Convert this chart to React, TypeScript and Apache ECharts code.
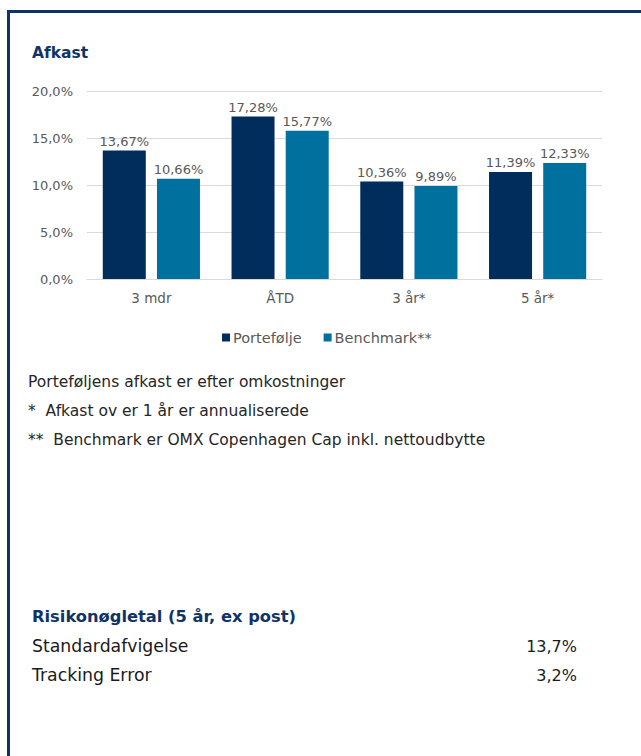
import React, { useEffect, useRef } from "react";
import * as echarts from "echarts";

const categories = ["3 mdr", "ÅTD", "3 år*", "5 år*"];
const seriesNames = ["Portefølje", "Benchmark**"];
const portfolioValues = [13.67, 17.28, 10.36, 11.39];
const benchmarkValues = [10.66, 15.77, 9.89, 12.33];
const yTicks = { min: 0, max: 20, interval: 5 };
const chartTitle = "Afkast";
const footnotes = [
  "Porteføljens afkast er efter omkostninger",
  "*  Afkast ov er 1 år er annualiserede",
  "**  Benchmark er OMX Copenhagen Cap inkl. nettoudbytte",
];
const riskTitle = "Risikonøgletal (5 år, ex post)";
const riskLabels = ["Standardafvigelse", "Tracking Error"];
const riskValues = ["13,7%", "3,2%"];

const FONT = "'DejaVu Sans', sans-serif";
const NAVY = "#002d5c";
const TEAL = "#00709e";
const GRAY = "#595959";
const TITLE_NAVY = "#0f3465";

const fmt = (v: number, d: number) => v.toFixed(d).replace(".", ",") + "%";

export default function App() {
  const ref = useRef<HTMLDivElement>(null);
  useEffect(() => {
    if (!ref.current) return;
    const chart = echarts.init(ref.current, undefined, { renderer: "svg" });
    const graphics: any[] = [
      {
        type: "rect",
        shape: { x: 8.5, y: 11.5, width: 800, height: 900 },
        style: { fill: "none", stroke: "#0d3466", lineWidth: 3 },
      },
      {
        type: "text",
        x: 32,
        y: 53,
        style: {
          text: chartTitle,
          fontFamily: FONT,
          fontSize: 15.5,
          fontWeight: "bold",
          fill: TITLE_NAVY,
          align: "left",
          verticalAlign: "middle",
        },
      },
    ];
    footnotes.forEach((t, i) => {
      graphics.push({
        type: "text",
        x: 28,
        y: 382 + i * 29,
        style: {
          text: t,
          fontFamily: FONT,
          fontSize: 15.5,
          fill: "#262626",
          align: "left",
          verticalAlign: "middle",
        },
      });
    });
    graphics.push({
      type: "text",
      x: 32,
      y: 616,
      style: {
        text: riskTitle,
        fontFamily: FONT,
        fontSize: 16.3,
        fontWeight: "bold",
        fill: TITLE_NAVY,
        align: "left",
        verticalAlign: "middle",
      },
    });
    riskLabels.forEach((t, i) => {
      graphics.push({
        type: "text",
        x: 32,
        y: 646 + i * 29,
        style: {
          text: t,
          fontFamily: FONT,
          fontSize: 17.3,
          fill: "#1a1a1a",
          align: "left",
          verticalAlign: "middle",
        },
      });
      graphics.push({
        type: "text",
        x: 577,
        y: 646 + i * 29,
        style: {
          text: riskValues[i],
          fontFamily: FONT,
          fontSize: 16,
          fill: "#1a1a1a",
          align: "right",
          verticalAlign: "middle",
        },
      });
    });

    const labelCfg = {
      show: true,
      position: "top",
      distance: 3,
      color: GRAY,
      fontFamily: FONT,
      fontSize: 13,
      formatter: (p: any) => fmt(p.value, 2),
    };

    chart.setOption({
      animation: false,
      textStyle: { fontFamily: FONT },
      grid: { left: 87, top: 91, width: 515, height: 188, containLabel: false },
      legend: {
        data: seriesNames,
        left: 217,
        top: 325,
        icon: "rect",
        itemWidth: 8,
        itemHeight: 8,
        itemGap: 22,
        textStyle: { color: GRAY, fontSize: 14.5, fontFamily: FONT, padding: [0, 0, 0, -2] },
      },
      xAxis: {
        type: "category",
        data: categories,
        axisLine: { show: true, lineStyle: { color: "#d9d9d9", width: 1 } },
        axisTick: { show: false },
        axisLabel: { color: GRAY, fontSize: 13.5, fontFamily: FONT, margin: 12 },
      },
      yAxis: {
        type: "value",
        min: yTicks.min,
        max: yTicks.max,
        interval: yTicks.interval,
        axisLine: { show: false },
        axisTick: { show: false },
        splitLine: { lineStyle: { color: "#d9d9d9", width: 1 } },
        axisLabel: {
          color: GRAY,
          fontSize: 13,
          fontFamily: FONT,
          margin: 14,
          formatter: (v: number) => fmt(v, 1),
        },
      },
      series: [
        {
          name: seriesNames[0],
          type: "bar",
          data: portfolioValues,
          barWidth: 43,
          barGap: "26%",
          itemStyle: { color: NAVY },
          label: labelCfg,
        },
        {
          name: seriesNames[1],
          type: "bar",
          data: benchmarkValues,
          barWidth: 43,
          barGap: "26%",
          itemStyle: { color: TEAL },
          label: labelCfg,
        },
      ],
      graphic: graphics,
    });
    return () => chart.dispose();
  }, []);
  return (
    <div
      ref={ref}
      style={{ position: "absolute", left: 0, top: 0, width: 641, height: 756, background: "#fff" }}
    />
  );
}
